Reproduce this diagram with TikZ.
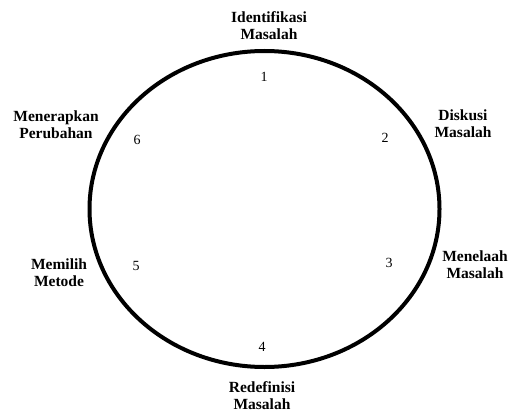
\documentclass[tikz,border=0pt]{standalone}
\usepackage{fontspec}
\setmainfont{Liberation Serif}
\usetikzlibrary{positioning}

\begin{document}
\begin{tikzpicture}[x=1pt, y=-1pt,
        tahap/.style={align=center, inner sep=0pt, font=\fontsize{15.5}{17}\selectfont\bfseries},
        nomor/.style={inner sep=0pt, font=\fontsize{14}{16}\selectfont},
        siklus/.style={line width=4pt, black}]
        \useasboundingbox (0,0) rectangle (508,414);
        % lingkaran siklus
        \draw[siklus] (264.5,209) ellipse [x radius=175, y radius=158];
        % tahapan
        \node[tahap] (t1) at (269,26)  {Identifikasi\\Masalah};
        \node[tahap] (t2) at (463,124) {Diskusi\\Masalah};
        \node[tahap] (t3) at (475,265) {Menelaah\\Masalah};
        \node[tahap] (t4) at (262,396) {Redefinisi\\Masalah};
        \node[tahap] (t5) at (59,273)  {Memilih\\Metode};
        \node[tahap] (t6) at (56,125)  {Menerapkan\\Perubahan};
        % nomor tahapan
        \node[nomor] (n1) at (264,77)  {1};
        \node[nomor] (n2) at (385,138) {2};
        \node[nomor] (n3) at (389,263) {3};
        \node[nomor] (n4) at (262,347) {4};
        \node[nomor] (n5) at (136,266) {5};
        \node[nomor] (n6) at (137,140) {6};
      \end{tikzpicture}
\end{document}
